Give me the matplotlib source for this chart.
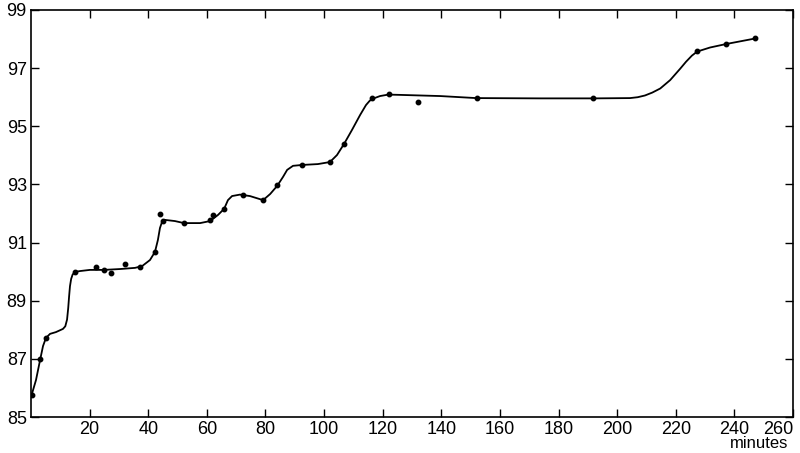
import matplotlib
matplotlib.use("Agg")
import matplotlib.pyplot as plt

plt.rcParams['font.family'] = ['Liberation Sans', 'DejaVu Sans']

# measured points (minutes, value)
point_x = [0.3, 3.1, 5.1, 15.0, 22.2, 24.9, 27.3, 32.1, 37.2, 42.3, 44.0, 45.1,
           52.2, 61.1, 62.1, 65.9, 72.4, 79.2, 84.0, 92.5, 102.0, 106.8, 116.5,
           122.0, 132.2, 152.1, 191.9, 227.2, 237.2, 247.1]
point_y = [85.75, 87.0, 87.73, 89.99, 90.16, 90.06, 89.95, 90.26, 90.16, 90.68,
           91.98, 91.74, 91.67, 91.78, 91.95, 92.16, 92.64, 92.46, 92.98, 93.66,
           93.77, 94.38, 95.96, 96.1, 95.84, 95.97, 95.96, 97.6, 97.82, 98.02]

# hand-drawn smoothing curve
curve_x = [0.3, 1.7, 3.1, 4.1, 5.1, 6.5, 8.5, 10.9, 11.7, 12.3, 12.7, 13.0, 13.3,
           13.7, 14.2, 15.0, 16.7, 20.1, 24.9, 30.4, 35.5, 37.9, 40.6, 42.3, 43.3,
           44.0, 44.7, 45.7, 49.1, 52.2, 57.7, 61.1, 63.8, 65.9, 67.2, 68.6, 71.3,
           74.7, 79.2, 81.6, 84.0, 86.0, 87.4, 89.4, 92.5, 97.9, 102.0, 104.4,
           106.8, 109.5, 112.3, 114.3, 115.5, 116.4, 119.1, 121.9, 125.9, 139.6,
           151.9, 173.7, 192.2, 204.4, 207.0, 209.5, 212.0, 214.7, 218.1, 221.5,
           223.5, 225.5, 227.3, 231.7, 237.2, 247.1]
curve_y = [85.79, 86.27, 86.96, 87.44, 87.72, 87.86, 87.92, 88.03, 88.12, 88.35,
           88.75, 89.15, 89.50, 89.75, 89.90, 89.99, 90.02, 90.06, 90.06, 90.09,
           90.13, 90.19, 90.40, 90.68, 91.09, 91.50, 91.71, 91.78, 91.74, 91.67,
           91.67, 91.74, 91.95, 92.16, 92.46, 92.60, 92.65, 92.60, 92.46, 92.67,
           92.95, 93.26, 93.50, 93.64, 93.67, 93.70, 93.77, 94.01, 94.39, 94.87,
           95.39, 95.73, 95.87, 95.94, 96.04, 96.09, 96.08, 96.04, 95.97, 95.96,
           95.96, 95.97, 96.00, 96.06, 96.16, 96.30, 96.59, 96.98, 97.22, 97.43,
           97.57, 97.71, 97.83, 98.02]

x_ticks = [20, 40, 60, 80, 100, 120, 140, 160, 180, 200, 220, 240, 260]
y_ticks = [85, 87, 89, 91, 93, 95, 97, 99]

fig = plt.figure(figsize=(8.0, 4.53), dpi=100)
ax = fig.add_axes([31/800, 1 - 417/453, (793 - 31)/800, (417 - 10)/453])

ax.plot(curve_x, curve_y, color='black', lw=1.3, solid_joinstyle='round',
        solid_capstyle='round')
ax.plot(point_x, point_y, 'o', color='black', ms=3.2, mec='black')

ax.set_xlim(0, 260)
ax.set_ylim(85, 99)
ax.set_xticks(x_ticks)
ax.set_yticks(y_ticks)
ax.set_xticklabels([str(v) for v in x_ticks])
ax.set_yticklabels([str(v) for v in y_ticks])
ax.tick_params(direction='in', length=6, width=1.0, top=True, right=True,
               labelsize=13, colors='black', pad=3)
for lab in ax.get_xticklabels():
    if lab.get_text() == '260':
        lab.set_horizontalalignment('right')
for s in ax.spines.values():
    s.set_linewidth(1.2)
    s.set_color('black')

fig.text(788/800, 1 - 444/453, 'minutes', ha='right', va='center', fontsize=12)

fig.savefig('out.png', dpi=100)
